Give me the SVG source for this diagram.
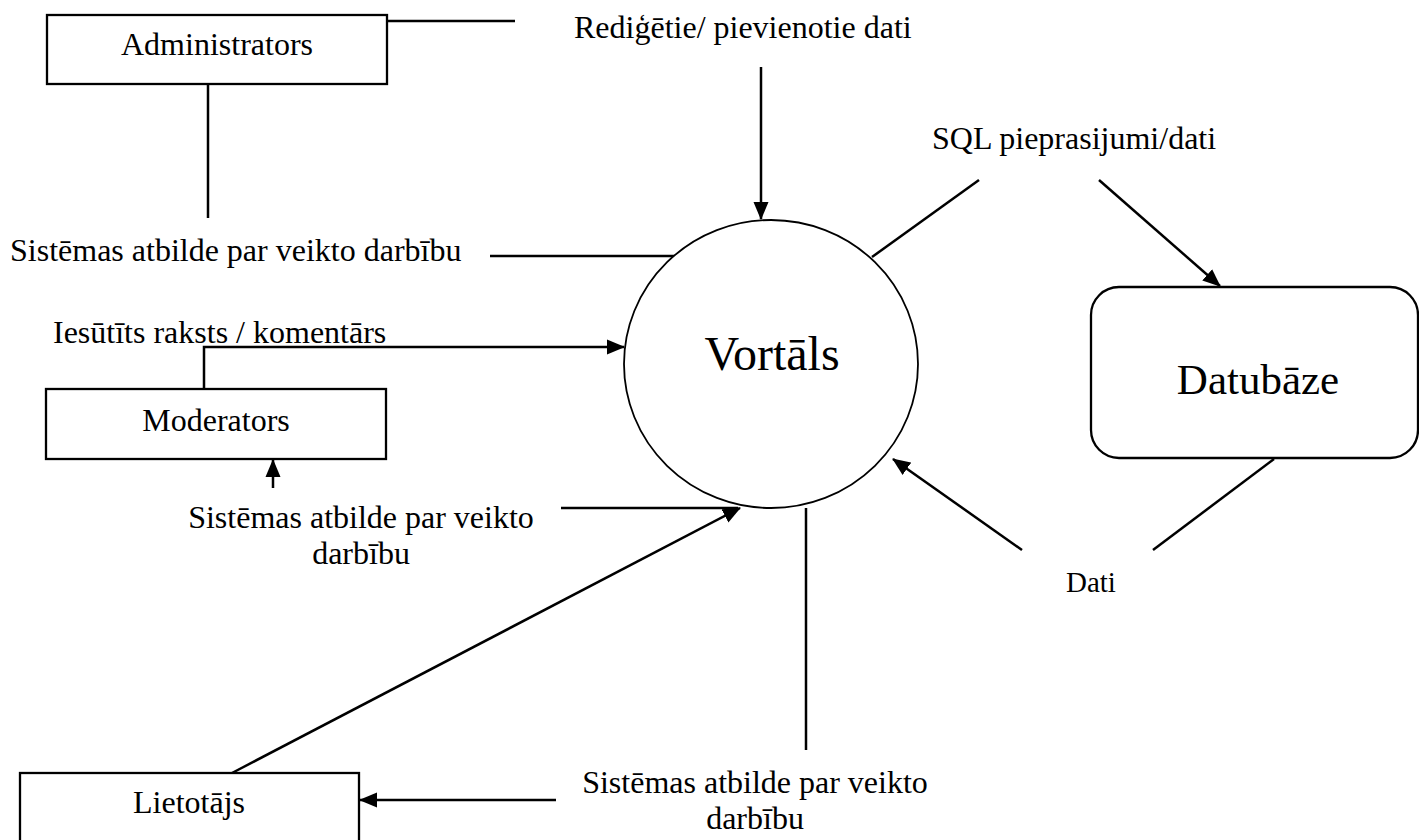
<svg xmlns="http://www.w3.org/2000/svg" width="1419" height="840" viewBox="0 0 1419 840">
<style>
.box{fill:#fff;stroke:#000;stroke-width:2.3}
.t{font-family:"Liberation Serif","Times New Roman",serif;font-size:32px;fill:#000}
.c{stroke:#000;stroke-width:2.5;fill:none}
</style>
<defs>
<marker id="ah" markerUnits="userSpaceOnUse" markerWidth="18" markerHeight="16" refX="17" refY="8" orient="auto">
<path d="M0,0.5 L18,8 L0,15.5 z" fill="#000"/>
</marker>
</defs>
<rect width="1419" height="840" fill="#fff"/>
<g id="connectors">
<line class="c" x1="387" y1="21" x2="515" y2="21"/>
<line class="c" x1="208" y1="84" x2="208" y2="218"/>
<line class="c" x1="761" y1="67" x2="761" y2="219" marker-end="url(#ah)"/>
<line class="c" x1="490" y1="256" x2="677" y2="256"/>
<line class="c" x1="872" y1="257" x2="979" y2="180"/>
<line class="c" x1="1099" y1="180" x2="1220" y2="286" marker-end="url(#ah)"/>
<path class="c" d="M204,389 V347 H624" marker-end="url(#ah)"/>
<line class="c" x1="273" y1="488" x2="273" y2="460" marker-end="url(#ah)"/>
<line class="c" x1="561" y1="508" x2="738" y2="508"/>
<line class="c" x1="232" y1="773" x2="740" y2="508" marker-end="url(#ah)"/>
<line class="c" x1="806" y1="508" x2="806" y2="750"/>
<line class="c" x1="556" y1="800" x2="360" y2="800" marker-end="url(#ah)"/>
<line class="c" x1="1022" y1="550" x2="893" y2="459" marker-end="url(#ah)"/>
<line class="c" x1="1274" y1="459" x2="1153" y2="550"/>
</g>
<g id="labels">
<text class="t" x="574" y="38">Rediģētie/ pievienotie dati</text>
<text class="t" x="932" y="149">SQL pieprasijumi/dati</text>
<text class="t" x="10" y="261">Sistēmas atbilde par veikto darbību</text>
<text class="t" x="53" y="343">Iesūtīts raksts / komentārs</text>
<text class="t" x="361" y="528" text-anchor="middle">Sistēmas atbilde par veikto</text>
<text class="t" x="361" y="564" text-anchor="middle">darbību</text>
<text class="t" x="755" y="793" text-anchor="middle">Sistēmas atbilde par veikto</text>
<text class="t" x="755" y="829" text-anchor="middle">darbību</text>
<text class="t" x="1066" y="592" style="font-size:29px">Dati</text>
</g>
<g id="administrators">
<rect class="box" x="47" y="15" width="340" height="69"/>
<text class="t" x="217" y="55" text-anchor="middle">Administrators</text>
</g>
<g id="moderators">
<rect class="box" x="46" y="389" width="340" height="70"/>
<text class="t" x="216" y="431" text-anchor="middle">Moderators</text>
</g>
<g id="lietotajs">
<rect class="box" x="20" y="773" width="339" height="80"/>
<text class="t" x="189" y="813" text-anchor="middle">Lietotājs</text>
</g>
<g id="vortals">
<ellipse cx="771" cy="364" rx="147" ry="144" fill="#fff" stroke="#000" stroke-width="1.8"/>
<text class="t" x="772" y="370" text-anchor="middle" style="font-size:48px">Vortāls</text>
</g>
<g id="datubaze">
<rect class="box" x="1091" y="287" width="327" height="171" rx="28" ry="28"/>
<text class="t" x="1258" y="394" text-anchor="middle" style="font-size:43px">Datubāze</text>
</g>
</svg>
